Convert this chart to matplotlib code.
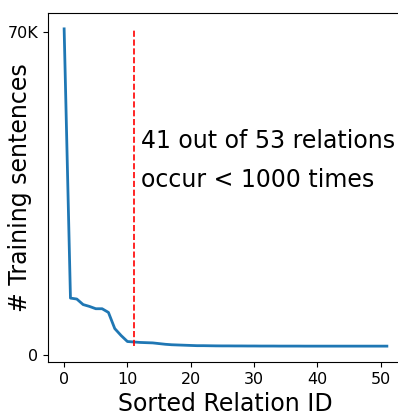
import numpy as np
import matplotlib
matplotlib.use('Agg')
import matplotlib.pyplot as plt

relation_ids = list(range(52))
sentences = [70700, 12400, 12200, 11000, 10600, 10100, 10100, 9300, 5800, 4300,
             3000, 2900, 2800, 2750, 2700, 2550, 2400, 2300, 2250, 2200,
             2150, 2100, 2100, 2080, 2060, 2050, 2050, 2040, 2040, 2030,
             2030, 2020, 2020, 2020, 2010, 2010, 2010, 2010, 2000, 2000,
             2000, 2000, 2000, 2000, 2000, 2000, 2000, 2000, 2000, 2000,
             2000, 2000]
cut_id = 11
y_ticks = [0, 70000]
y_ticklabels = ['0', '70K']
note_lines = ['41 out of 53 relations', 'occur < 1000 times']

fig = plt.figure(figsize=(3.98, 4.12), dpi=100)
ax = fig.add_axes([48 / 398, 1 - 362 / 412, 355 / 398, 349 / 412])
ax.plot(relation_ids, sentences, color='#1f77b4', lw=2)
ax.vlines(cut_id, min(sentences), max(sentences), colors='red', linestyles='dashed', lw=1.2)
ax.text(12.2, 44800, note_lines[0], fontsize=17, va='baseline')
ax.text(12.2, 36400, note_lines[1], fontsize=17, va='baseline')
ax.set_yticks(y_ticks)
ax.set_yticklabels(y_ticklabels)
ax.tick_params(labelsize=11.5)
ax.set_xlabel('Sorted Relation ID', fontsize=17)
ax.set_ylabel('# Training sentences', fontsize=17)
ax.yaxis.set_label_coords(-0.045, 0.5)
fig.savefig('out.png', dpi=100)
